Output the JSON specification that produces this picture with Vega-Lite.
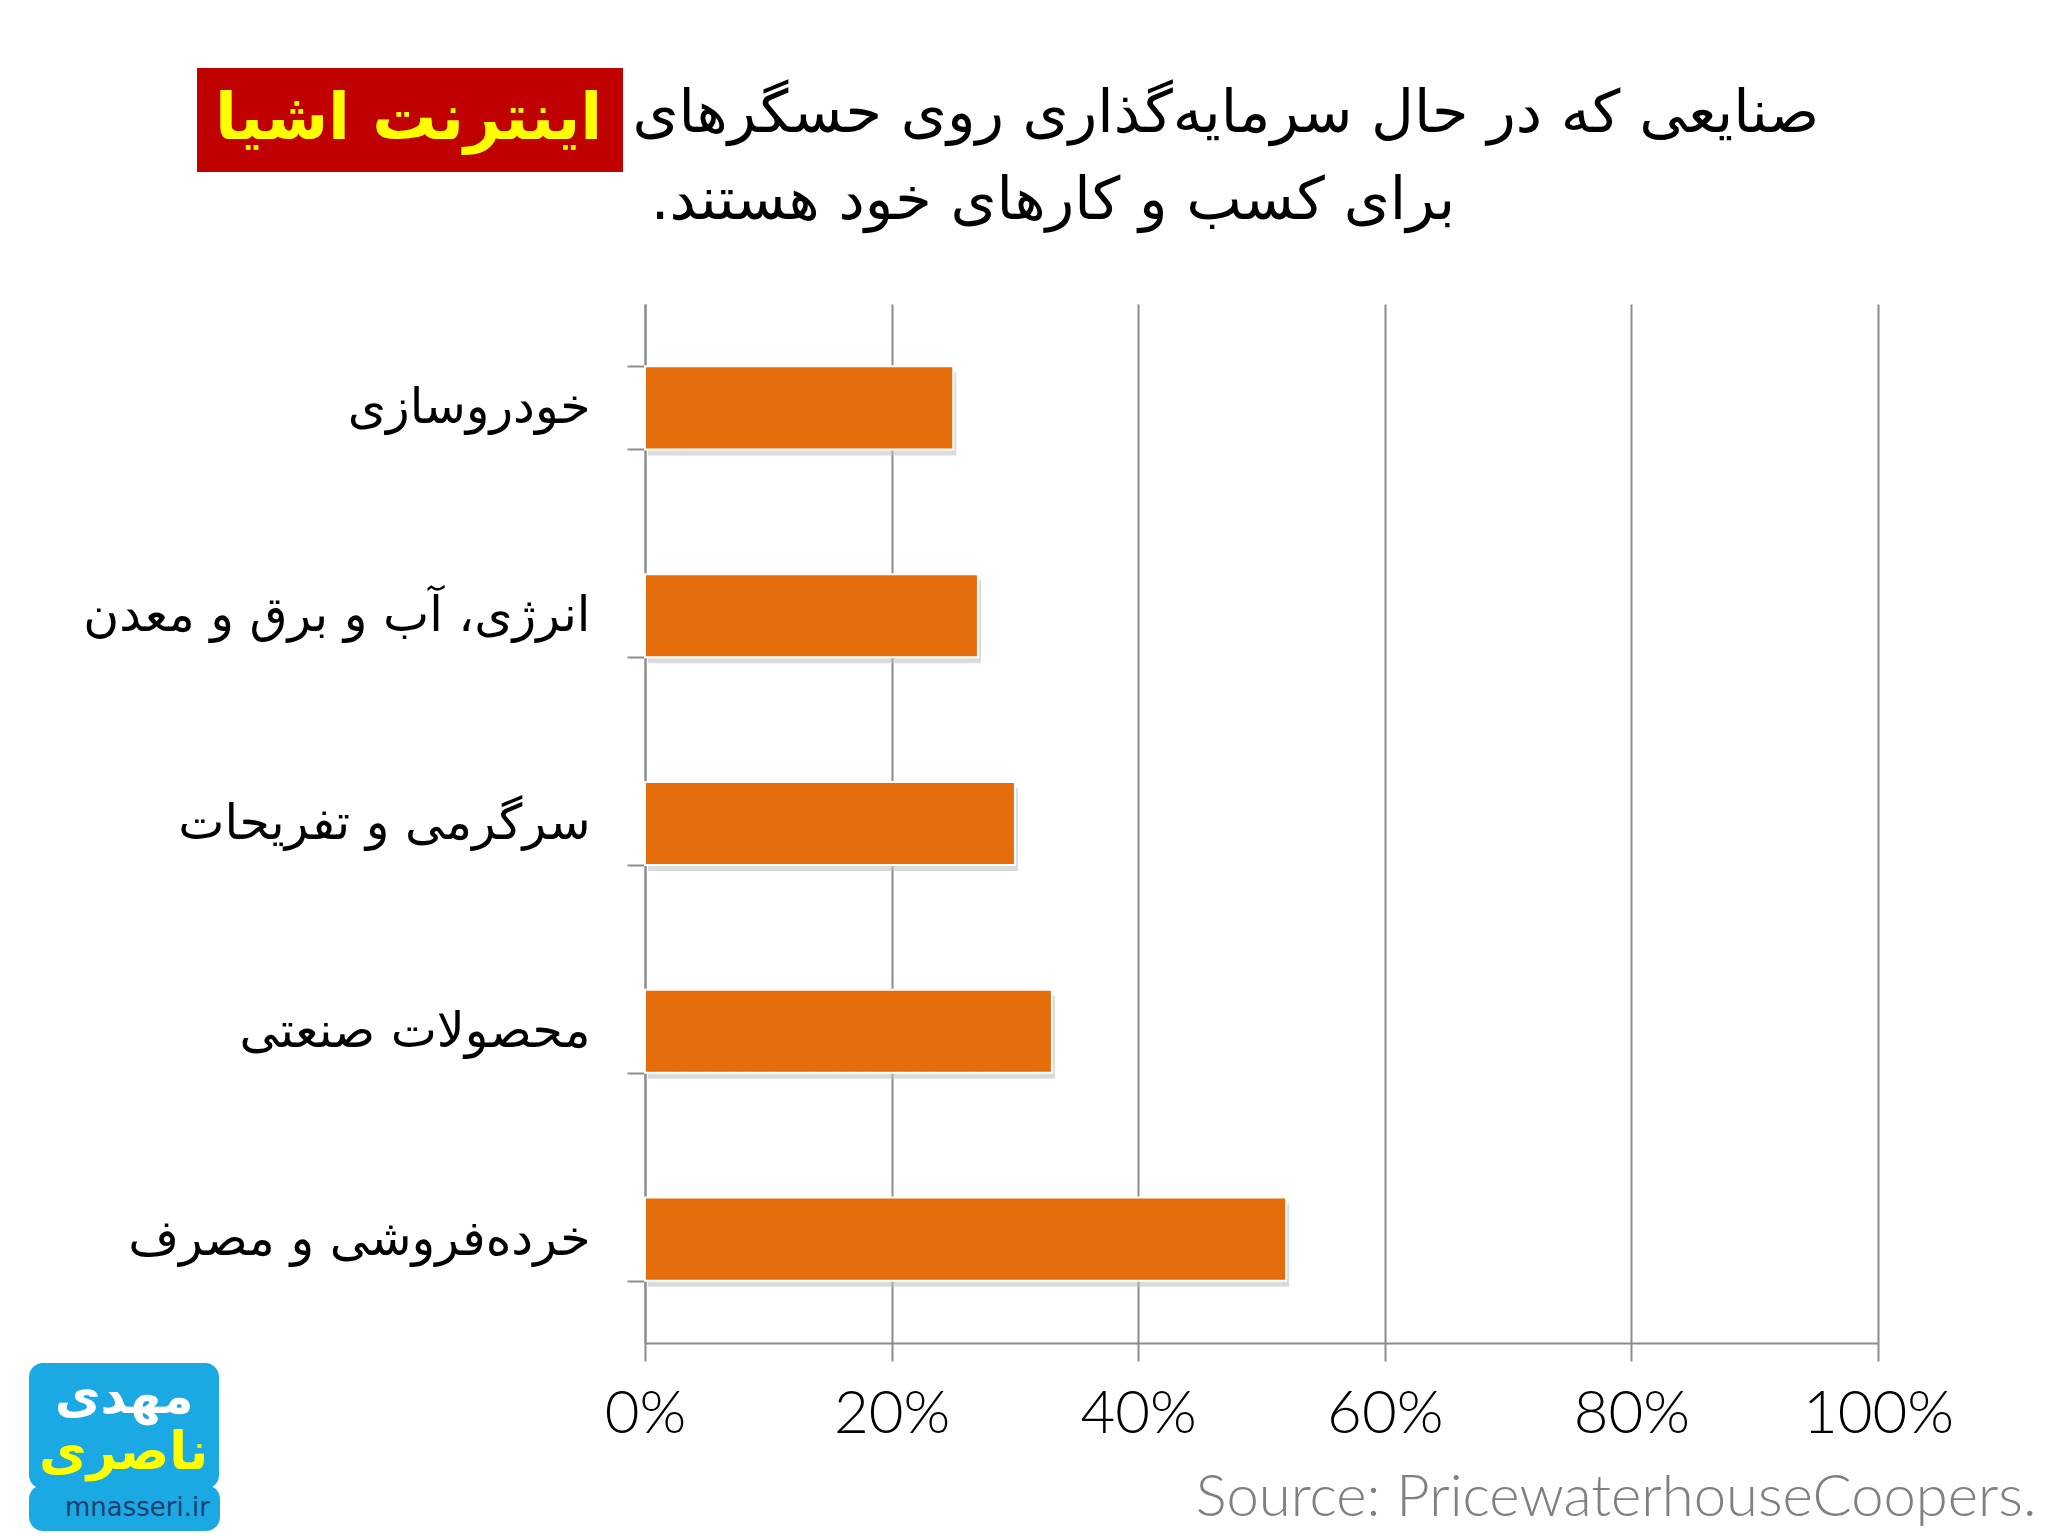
{
  "$schema": "https://vega.github.io/schema/vega-lite/v6.json",
  "autosize": {"type": "none"},
  "padding": {"left": 645, "top": 304, "right": 170, "bottom": 193},
  "width": 1233,
  "height": 1039,
  "background": "white",
  "title": {
    "text": ["\u2066\u2800\u2800\u2800\u2800\u2800\u2800\u2800\u2800\u2800\u2800\u2800\u2800\u2067صنایعی که در حال سرمایه‌گذاری روی حسگرهای\u2069\u2069", "\u2066\u2800\u2800\u2800\u2800\u2067برای کسب و کارهای خود هستند.\u2069\u2069"],
    "frame": "group",
    "font": "DejaVu Sans",
    "fontSize": 59,
    "fontWeight": "normal",
    "color": "#000000",
    "anchor": "middle",
    "dx": -295,
    "dy": 163,
    "lineHeight": 87,
    "offset": 0
  },
  "data": {
    "values": [
      {"industry": "خودروسازی", "share": 0.25},
      {"industry": "انرژی، آب و برق و معدن", "share": 0.27},
      {"industry": "سرگرمی و تفریحات", "share": 0.30},
      {"industry": "محصولات صنعتی", "share": 0.33},
      {"industry": "خرده‌فروشی و مصرف", "share": 0.52}
    ]
  },
  "encoding": {
    "y": {
      "field": "industry",
      "type": "nominal",
      "sort": null,
      "scale": {"paddingInner": 0.6, "paddingOuter": 0.3},
      "axis": {
        "title": null,
        "domainColor": "#8C8C8C",
        "domainWidth": 2,
        "tickColor": "#8C8C8C",
        "tickWidth": 2,
        "tickSize": 18,
        "tickBand": "extent",
        "labelFont": "DejaVu Sans",
        "labelFontSize": 49,
        "labelColor": "#000000",
        "labelPadding": 37,
        "labelLimit": 900
      }
    },
    "x": {
      "field": "share",
      "type": "quantitative",
      "scale": {"domain": [0, 1], "nice": false},
      "axis": {
        "format": "%",
        "values": [0, 0.2, 0.4, 0.6, 0.8, 1],
        "grid": true,
        "gridColor": "#8C8C8C",
        "gridWidth": 2,
        "domainColor": "#8C8C8C",
        "domainWidth": 2,
        "tickColor": "#8C8C8C",
        "tickWidth": 2,
        "tickSize": 18,
        "labelFlush": false,
        "labelFont": "Lato",
        "labelFontWeight": 300,
        "labelFontSize": 60,
        "labelColor": "#000000",
        "labelPadding": 24,
        "title": "Source: PricewaterhouseCoopers.",
        "titleFont": "Lato",
        "titleFontWeight": 300,
        "titleFontSize": 58,
        "titleColor": "#808080",
        "titleAnchor": "end",
        "titleAlign": "right",
        "titleBaseline": "alphabetic",
        "titleX": 1391,
        "titleY": 172
      }
    }
  },
  "layer": [
    {
      "mark": {"type": "bar", "color": "#BDBDBD", "opacity": 0.55, "xOffset": 3, "yOffset": 6}
    },
    {
      "mark": {"type": "bar", "strokeWidth": 2},
      "encoding": {
        "color": {
          "datum": "اینترنت اشیا",
          "scale": {"range": ["#E46C0A"]},
          "legend": {
            "title": null,
            "orient": "none",
            "legendX": -448,
            "legendY": -236,
            "fillColor": "#C00000",
            "padding": 20,
            "symbolSize": 0,
            "symbolOpacity": 0,
            "symbolStrokeWidth": 0,
            "labelOffset": -66,
            "labelFont": "DejaVu Sans",
            "labelFontWeight": "bold",
            "labelFontSize": 64,
            "labelColor": "#FFFF00",
            "labelLimit": 800
          }
        },
        "stroke": {
          "datum": "ناصری",
          "scale": {"range": ["#FFFFFF"]},
          "legend": {
            "title": "مهدی",
            "orient": "none",
            "legendX": -616,
            "legendY": 1059,
            "fillColor": "#1BA9E4",
            "cornerRadius": 14,
            "padding": 10,
            "titleFont": "DejaVu Sans",
            "titleFontSize": 50,
            "titleFontWeight": "bold",
            "titleColor": "#FFFFFF",
            "titleAnchor": "middle",
            "titlePadding": 4,
            "symbolSize": 0,
            "symbolOpacity": 0,
            "symbolStrokeWidth": 0,
            "labelOffset": -52,
            "labelFont": "DejaVu Sans",
            "labelFontSize": 52,
            "labelFontWeight": "bold",
            "labelColor": "#FFFF00",
            "labelLimit": 400
          }
        },
        "strokeDash": {
          "datum": "mnasseri.ir",
          "scale": {"range": [[1, 0]]},
          "legend": {
            "title": null,
            "orient": "none",
            "legendX": -616,
            "legendY": 1181,
            "fillColor": "#1BA9E4",
            "cornerRadius": 14,
            "padding": 10,
            "symbolSize": 0,
            "symbolOpacity": 0,
            "symbolStrokeWidth": 0,
            "labelOffset": 0,
            "labelFont": "DejaVu Sans",
            "labelFontSize": 26,
            "labelColor": "#1D3E6E",
            "labelLimit": 400
          }
        }
      }
    }
  ],
  "config": {"view": {"stroke": null}}
}
